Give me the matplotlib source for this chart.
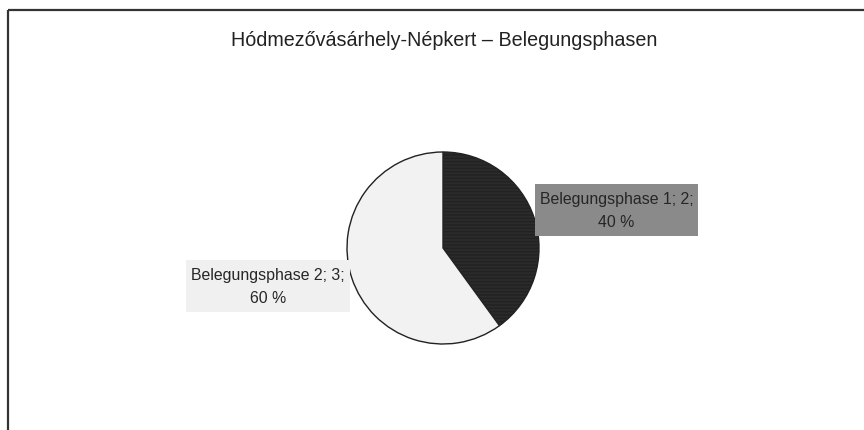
import matplotlib
matplotlib.use("Agg")
import matplotlib.pyplot as plt
from matplotlib.patches import Rectangle

plt.rcParams['font.family'] = ['Liberation Sans', 'DejaVu Sans']

title = "Hódmezővásárhely-Népkert – Belegungsphasen"
labels = ["Belegungsphase 1", "Belegungsphase 2"]
values = [2, 3]
percents = ["40 %", "60 %"]
colors = ["#2b2b2b", "#f2f2f2"]
box_colors = ["#8a8a8a", "#f0f0f0"]

W, H = 864, 431
fig = plt.figure(figsize=(W / 100, H / 100), dpi=100)
ax = fig.add_axes([0, 0, 1, 1])

def py(y):
    return H - y

wedges, _ = ax.pie(values, colors=colors, startangle=90, counterclock=False,
                   center=(443, py(249)), radius=96, frame=True,
                   wedgeprops=dict(edgecolor="#222222", linewidth=1.0))
ax.set_xlim(0, W)
ax.set_ylim(0, H)
ax.set_aspect('equal')
ax.axis('off')
wedges[0].set_hatch('-----')

# frame (left and top lines)
ax.plot([8, 8], [py(11), py(431)], color="#333333", lw=1.6, solid_capstyle='butt')
ax.plot([8, 864], [py(11), py(11)], color="#333333", lw=1.6, solid_capstyle='butt')

ax.text(444, py(40), title, ha='center', va='center', fontsize=14.2, color="#222222")

# label boxes
boxes = [(535, 185, 163, 52), (186, 261, 164, 52)]
for (x, y, w, h), lab, v, pc, bc in zip(boxes, labels, values, percents, box_colors):
    ax.add_patch(Rectangle((x, py(y + h)), w, h, facecolor=bc, edgecolor='none', zorder=3))
    ax.text(x + w / 2, py(y + h / 2), f"{lab}; {v};\n{pc}", ha='center', va='center',
            fontsize=11.4, color="#262626", linespacing=1.6, zorder=4)

fig.savefig("out.png", dpi=100)
